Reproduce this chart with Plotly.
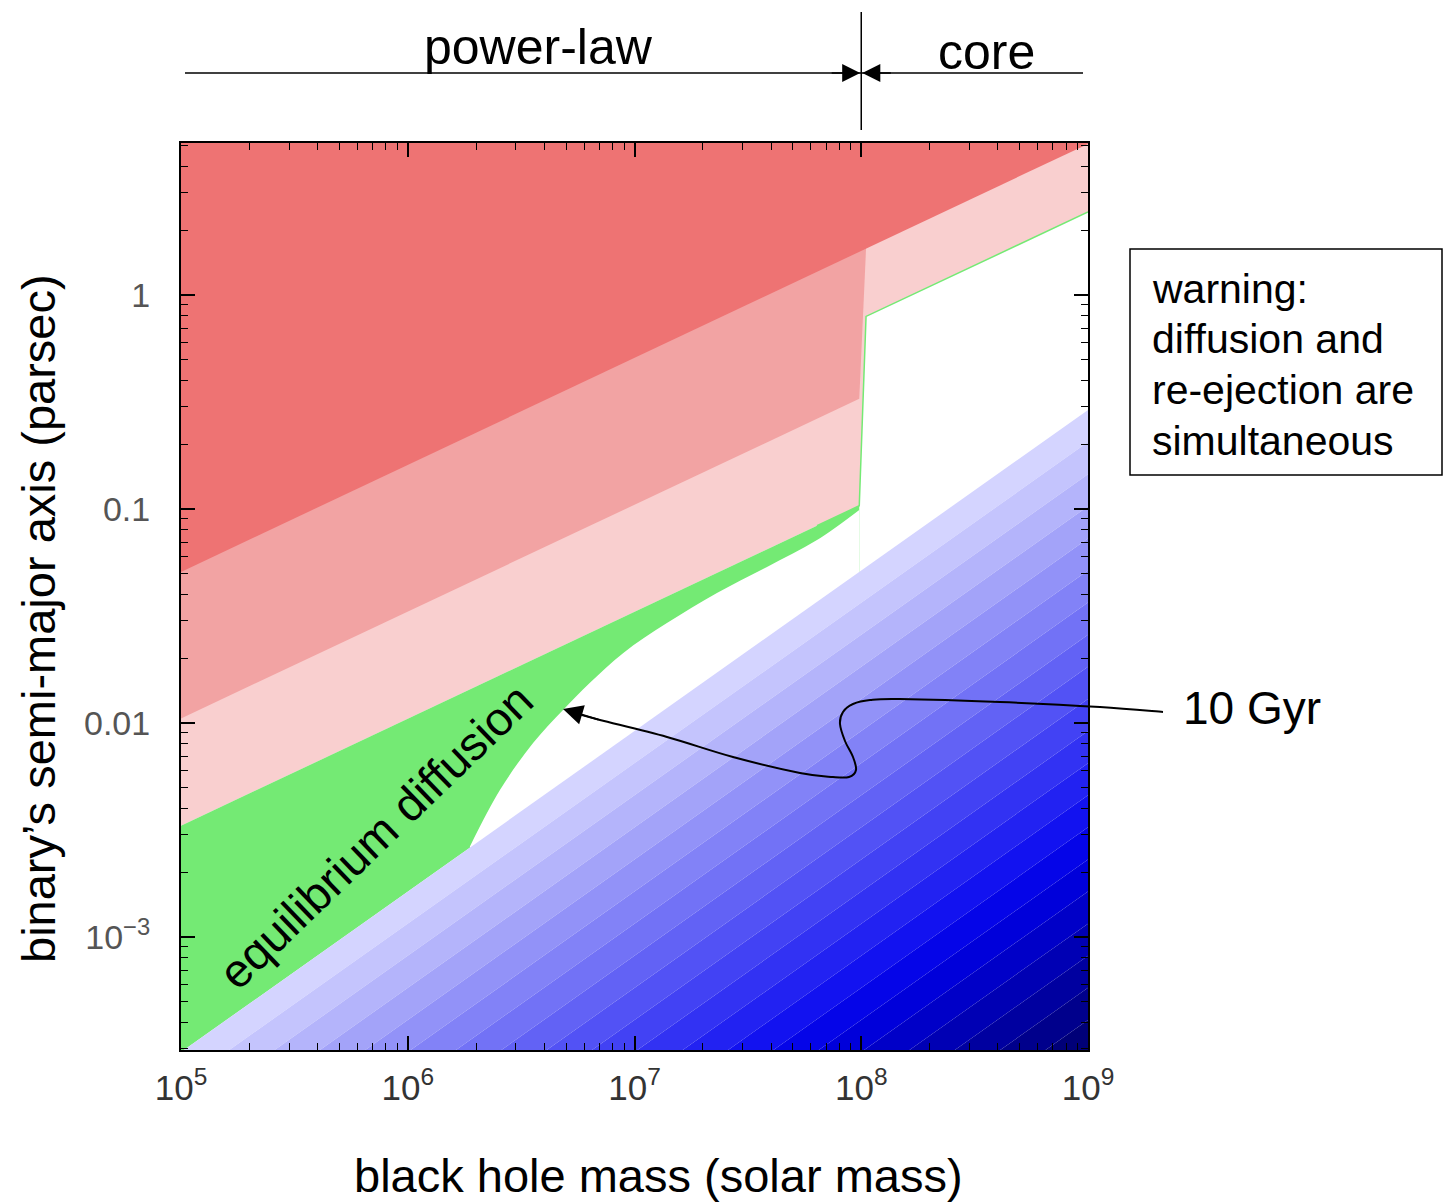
import numpy as np
import plotly.graph_objects as go

# ---------------- data ----------------
# axis ranges (log10 of values)
x_log_range = [5.0, 9.0]
y_log_range = [-3.528, 0.71]

# black hole mass ticks
x_tick_vals = [1e5, 1e6, 1e7, 1e8, 1e9]
x_tick_text = ["10<sup>5</sup>", "10<sup>6</sup>", "10<sup>7</sup>", "10<sup>8</sup>", "10<sup>9</sup>"]
# semi-major axis ticks
y_tick_vals = [1e-3, 1e-2, 1e-1, 1.0]
y_tick_text = ["10<sup>\u22123</sup>", "0.01", "0.1", "1"]

# dark-red region lower edge (straight line across all masses)
red_edge_M = [1e5, 1e9]
red_edge_a = [0.0508, 5.08]

# medium-pink lower edge (power-law side)
mid_edge_M = [1e5, 0.98e8]
mid_edge_a = [0.0105, 0.327]

# light-pink lower edge, power-law side
pl_edge_M = [1e5, 0.98e8]
pl_edge_a = [0.00331, 0.1035]

# light-pink lower edge, core side
core_edge_M = [1.05e8, 1e9]
core_edge_a = [0.794, 2.44]

# step mass where the red line is cut (top of the step)
step_top_M = 1.05e8
step_top_a = 1.647

# lower edge of the green "equilibrium diffusion" region (curved part)
green_curve_M = [1.88e6, 2.55e6, 3.57e6, 4.84e6, 6.36e6, 8.90e6, 1.39e7,
                 2.31e7, 3.84e7, 6.38e7, 0.98e8]
green_curve_a = [0.00265, 0.00486, 0.00806, 0.0115, 0.0154, 0.0212, 0.0293,
                 0.0405, 0.0536, 0.0716, 0.099]

# upper edge of the blue region (10 Gyr contour)
blue_edge_M = [1e5, 1e9]
blue_edge_a = [2.90e-4, 0.290]

# blue shading bands: offset below the edge (dex) and colour
blue_band_offsets = [0.0, 0.15, 0.3, 0.45, 0.6, 0.75, 0.9, 1.05, 1.2, 1.35, 1.5,
                     1.65, 1.8, 1.95, 2.1, 2.25, 2.4, 2.55, 2.7, 2.85, 3.0, 4.5]
blue_band_colors = ["#d4d4ff", "#c4c4fd", "#b4b4fb", "#a3a3f9", "#9292f8",
                    "#8282f7", "#7272f6", "#6262f5", "#5252f5", "#4242f4",
                    "#3232f3", "#2222f2", "#1212f0", "#0505e8", "#0000da",
                    "#0000c8", "#0000b4", "#0000a0", "#00008c", "#000078",
                    "#000064"]

# ---------------- colours ----------------
c_red = "#ee7373"
c_mid = "#f2a3a3"
c_light = "#f9cfcf"
c_green = "#74ea74"

TOP = 30.0  # above the plotted range (clipped)

fig = go.Figure()


def poly(M, a, color):
    fig.add_trace(go.Scatter(x=M, y=a, mode="lines", fill="toself",
                             fillcolor=color, line=dict(width=0, color=color),
                             hoverinfo="skip", showlegend=False))


# light pink (everything above power-law/core edges)
poly([pl_edge_M[0], pl_edge_M[1], core_edge_M[0], core_edge_M[1], core_edge_M[1], pl_edge_M[0]],
     [pl_edge_a[0], pl_edge_a[1], core_edge_a[0], core_edge_a[1], TOP, TOP], c_light)

# medium pink (power-law side only)
poly([mid_edge_M[0], mid_edge_M[1], step_top_M, step_top_M, mid_edge_M[0]],
     [mid_edge_a[0], mid_edge_a[1], step_top_a, TOP, TOP], c_mid)

# dark red
poly([red_edge_M[0], red_edge_M[1], red_edge_M[1], red_edge_M[0]],
     [red_edge_a[0], red_edge_a[1], TOP, TOP], c_red)

# blue-edge helper
slope = np.log10(blue_edge_a[1] / blue_edge_a[0]) / np.log10(blue_edge_M[1] / blue_edge_M[0])


def blue_at(M, d=0.0):
    M = np.asarray(M, dtype=float)
    return blue_edge_a[0] * (M / blue_edge_M[0]) ** slope * 10 ** (-d)


# green region: whole wedge between the power-law edge and the blue edge ...
end_M = pl_edge_M[1]
poly([pl_edge_M[0], pl_edge_M[1], end_M, blue_edge_M[0]],
     [pl_edge_a[0], pl_edge_a[1], float(blue_at(end_M)), blue_edge_a[0]], c_green)

# ... with the white gap between the curved edge and the blue edge cut out
fig.add_trace(go.Scatter(x=green_curve_M, y=green_curve_a, mode="lines",
                         line=dict(width=0, shape="spline", smoothing=1.0, color="white"),
                         hoverinfo="skip", showlegend=False))
fig.add_trace(go.Scatter(x=[green_curve_M[0], green_curve_M[-1]],
                         y=[float(blue_at(green_curve_M[0], 0.03)),
                            float(blue_at(green_curve_M[-1], 0.03))],
                         mode="lines", fill="tonexty", fillcolor="white",
                         line=dict(width=0, color="white"),
                         hoverinfo="skip", showlegend=False))

# thin green edge along the step and the core edge
pl_slope = np.log10(pl_edge_a[1] / pl_edge_a[0]) / np.log10(pl_edge_M[1] / pl_edge_M[0])
edge_start_M = green_curve_M[-2]
edge_start_a = pl_edge_a[0] * (edge_start_M / pl_edge_M[0]) ** pl_slope
fig.add_trace(go.Scatter(x=[edge_start_M, pl_edge_M[1], core_edge_M[0], core_edge_M[1]],
                         y=[edge_start_a, pl_edge_a[1], core_edge_a[0], core_edge_a[1]],
                         mode="lines", line=dict(color=c_green, width=1.5),
                         hoverinfo="skip", showlegend=False))

# blue shaded bands
Mx = np.array([10 ** 4.8, 10 ** 9.2])
for i, col in enumerate(blue_band_colors):
    up = blue_at(Mx, blue_band_offsets[i])
    lo = blue_at(Mx, blue_band_offsets[i + 1])
    poly([Mx[0], Mx[1], Mx[1], Mx[0]], [up[0], up[1], lo[1], lo[0]], col)

# ---------------- layout ----------------
W, H = 1443, 1202
L, R, T, B = 181, 1088, 143, 1050
pw, ph = R - L, B - T


def px(x):
    return (x - L) / pw


def py(y):
    return (B - y) / ph


minor_x = [m * 10 ** e for e in range(5, 9) for m in range(2, 10)]
minor_y = [m * 10.0 ** e for e in range(-4, 1) for m in range(2, 10)]

fig.update_layout(
    width=W, height=H,
    margin=dict(l=L, r=W - R, t=T, b=H - B),
    paper_bgcolor="white", plot_bgcolor="white",
    font=dict(family="Liberation Sans, Arial, sans-serif", color="black"),
    xaxis=dict(type="log", range=x_log_range, tickmode="array",
               tickvals=x_tick_vals, ticktext=x_tick_text,
               ticks="inside", ticklen=14, tickwidth=1.5, tickcolor="black",
               showline=True, linewidth=2, linecolor="black", mirror="allticks",
               showgrid=False, zeroline=False, ticklabelstandoff=6,
               tickfont=dict(size=35, color="#333333"),
               minor=dict(tickmode="array", tickvals=minor_x, ticks="inside",
                          ticklen=7, tickwidth=1.2, tickcolor="black", showgrid=False)),
    yaxis=dict(type="log", range=y_log_range, tickmode="array",
               tickvals=y_tick_vals, ticktext=y_tick_text,
               ticks="inside", ticklen=14, tickwidth=1.5, tickcolor="black",
               showline=True, linewidth=2, linecolor="black", mirror="allticks",
               showgrid=False, zeroline=False, ticklabelstandoff=22,
               tickfont=dict(size=34, color="#555555"),
               minor=dict(tickmode="array", tickvals=minor_y, ticks="inside",
                          ticklen=7, tickwidth=1.2, tickcolor="black", showgrid=False)),
)

shapes = []
ann = []


def label(x, y, text, size, xanchor="center", angle=0):
    ann.append(dict(xref="paper", yref="paper", x=x, y=y, text=text, showarrow=False,
                    xanchor=xanchor, yanchor="middle", textangle=angle,
                    font=dict(size=size, color="black")))


# top "power-law | core" marker
x_break = (np.log10(1e8) - x_log_range[0]) / (x_log_range[1] - x_log_range[0])
shapes.append(dict(type="line", xref="paper", yref="paper", x0=px(185), x1=px(1083),
                   y0=py(73), y1=py(73), line=dict(color="black", width=1.5)))
shapes.append(dict(type="line", xref="paper", yref="paper", x0=x_break, x1=x_break,
                   y0=py(12), y1=py(130), line=dict(color="black", width=1.5)))
for sgn in (-1, 1):
    ann.append(dict(xref="paper", yref="paper", x=x_break + sgn * 0.0012, y=py(73),
                    ax=sgn * 30, ay=0, text="", showarrow=True, arrowhead=2,
                    arrowsize=2.4, arrowwidth=1.5, arrowcolor="black"))
label(px(538), py(47), "power-law", 50)
label(px(986), py(52), "core", 50)

# axis titles
label(px(658), py(1175), "black hole mass (solar mass)", 47)
label(px(38), py(619), "binary\u2019s semi-major axis (parsec)", 47, angle=-90)

# rotated label in green region
label(px(375), py(836), "equilibrium diffusion", 47, angle=-44)

# warning box
shapes.append(dict(type="rect", xref="paper", yref="paper", x0=px(1130), x1=px(1442),
                   y0=py(475), y1=py(249), line=dict(color="black", width=1.5)))
for txt, yy in zip(["warning:", "diffusion and", "re-ejection are", "simultaneous"],
                   [289, 339, 390, 441]):
    label(px(1150), py(yy), txt, 41, xanchor="left")

# 10 Gyr label and wiggly pointer
label(px(1181), py(708), "10 Gyr", 46, xanchor="left")

pts = [(1163, 712), (1100, 707), (1000, 702), (900, 699), (870, 700), (853, 704),
       (843, 712), (840, 724), (845, 741), (853, 757), (856, 770), (849, 777),
       (833, 777), (800, 773), (733, 757), (667, 737), (600, 720), (578, 714)]
P = [(px(a), py(b)) for a, b in pts]
path = "M %.5f,%.5f" % P[0]
for i in range(len(P) - 1):
    p0 = P[i - 1] if i > 0 else P[i]
    p1, p2 = P[i], P[i + 1]
    p3 = P[i + 2] if i + 2 < len(P) else P[i + 1]
    c1 = (p1[0] + (p2[0] - p0[0]) / 6, p1[1] + (p2[1] - p0[1]) / 6)
    c2 = (p2[0] - (p3[0] - p1[0]) / 6, p2[1] - (p3[1] - p1[1]) / 6)
    path += " C %.5f,%.5f %.5f,%.5f %.5f,%.5f" % (c1 + c2 + p2)
shapes.append(dict(type="path", xref="paper", yref="paper", path=path,
                   line=dict(color="black", width=2)))
ann.append(dict(xref="paper", yref="paper", x=px(563), y=py(709), ax=37, ay=11,
                text="", showarrow=True, arrowhead=2, arrowsize=2.2, arrowwidth=1.8,
                arrowcolor="black"))

fig.update_layout(shapes=shapes, annotations=ann)
fig.write_html("out.html")
